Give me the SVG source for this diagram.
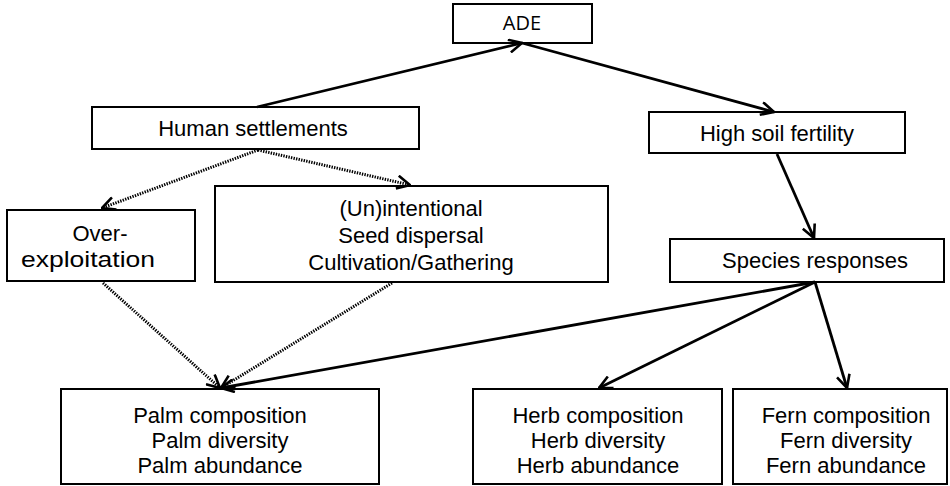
<svg xmlns="http://www.w3.org/2000/svg" width="950" height="486" viewBox="0 0 950 486">
  <style>
    .box { fill: #ffffff; stroke: #000000; stroke-width: 2; }
    .lbl { font-family: "Liberation Sans", Arial, sans-serif; font-size: 22px; fill: #000000; text-anchor: middle; }
    .ade { font-family: "Open Sans", "Liberation Sans", sans-serif; font-size: 20px; fill: #000000; text-anchor: middle; }
    .solid { fill: none; stroke: #000000; stroke-width: 2.8; }
    .dots { fill: none; stroke: #000000; stroke-width: 3; stroke-dasharray: 1.4 1.2; }
  </style>
  <defs>
    <marker id="arrow" viewBox="0 0 15 15" refX="14" refY="7.5" markerWidth="15" markerHeight="15" markerUnits="userSpaceOnUse" orient="auto">
      <path d="M1,1 L14,7.5 L1,14" fill="none" stroke="#000000" stroke-width="2.6"/>
    </marker>
  </defs>

  <!-- nodes -->
  <g id="ade">
    <rect class="box" x="453" y="4" width="139" height="39"/>
    <text class="ade" x="522" y="30">ADE</text>
  </g>
  <g id="human-settlements">
    <rect class="box" x="92" y="107" width="327" height="42"/>
    <text class="lbl" x="253" y="136">Human settlements</text>
  </g>
  <g id="high-soil-fertility">
    <rect class="box" x="649" y="112" width="256" height="41"/>
    <text class="lbl" x="777" y="141">High soil fertility</text>
  </g>
  <g id="species-responses">
    <rect class="box" x="670" y="239" width="274" height="43"/>
    <text class="lbl" x="815" y="268">Species responses</text>
  </g>
  <g id="over-exploitation">
    <rect class="box" x="7" y="210" width="188" height="71"/>
    <text class="lbl" x="100" y="241">Over-</text>
    <text class="lbl" x="88" y="267" textLength="134" lengthAdjust="spacingAndGlyphs">exploitation</text>
  </g>
  <g id="seed-dispersal">
    <rect class="box" x="215" y="186" width="393" height="96"/>
    <text class="lbl" x="411" y="216">(Un)intentional</text>
    <text class="lbl" x="411" y="243">Seed dispersal</text>
    <text class="lbl" x="411" y="270">Cultivation/Gathering</text>
  </g>
  <g id="palm">
    <rect class="box" x="61" y="389" width="318" height="95"/>
    <text class="lbl" x="220" y="423">Palm composition</text>
    <text class="lbl" x="220" y="448">Palm diversity</text>
    <text class="lbl" x="220" y="473">Palm abundance</text>
  </g>
  <g id="herb">
    <rect class="box" x="473" y="389" width="249" height="95"/>
    <text class="lbl" x="598" y="423">Herb composition</text>
    <text class="lbl" x="598" y="448">Herb diversity</text>
    <text class="lbl" x="598" y="473">Herb abundance</text>
  </g>
  <g id="fern">
    <rect class="box" x="733" y="389" width="214" height="95"/>
    <text class="lbl" x="846" y="423">Fern composition</text>
    <text class="lbl" x="846" y="448">Fern diversity</text>
    <text class="lbl" x="846" y="473">Fern abundance</text>
  </g>

  <!-- connectors -->
  <g id="connectors">
    <line class="solid" x1="257" y1="107" x2="522" y2="43" marker-end="url(#arrow)"/>
    <line class="solid" x1="522" y1="43" x2="774" y2="112" marker-end="url(#arrow)"/>
    <line class="solid" x1="777" y1="154" x2="814" y2="238" marker-end="url(#arrow)"/>
    <line class="solid" x1="815" y1="282" x2="221" y2="388" marker-end="url(#arrow)"/>
    <line class="solid" x1="815" y1="282" x2="599" y2="388" marker-end="url(#arrow)"/>
    <line class="solid" x1="815" y1="282" x2="847" y2="388" marker-end="url(#arrow)"/>
    <line class="dots" x1="258" y1="150" x2="102" y2="208" marker-end="url(#arrow)"/>
    <line class="dots" x1="258" y1="150" x2="410" y2="185" marker-end="url(#arrow)"/>
    <line class="dots" x1="103" y1="283" x2="220" y2="388" marker-end="url(#arrow)"/>
    <line class="dots" x1="392" y1="283" x2="221" y2="388" marker-end="url(#arrow)"/>
  </g>
</svg>
